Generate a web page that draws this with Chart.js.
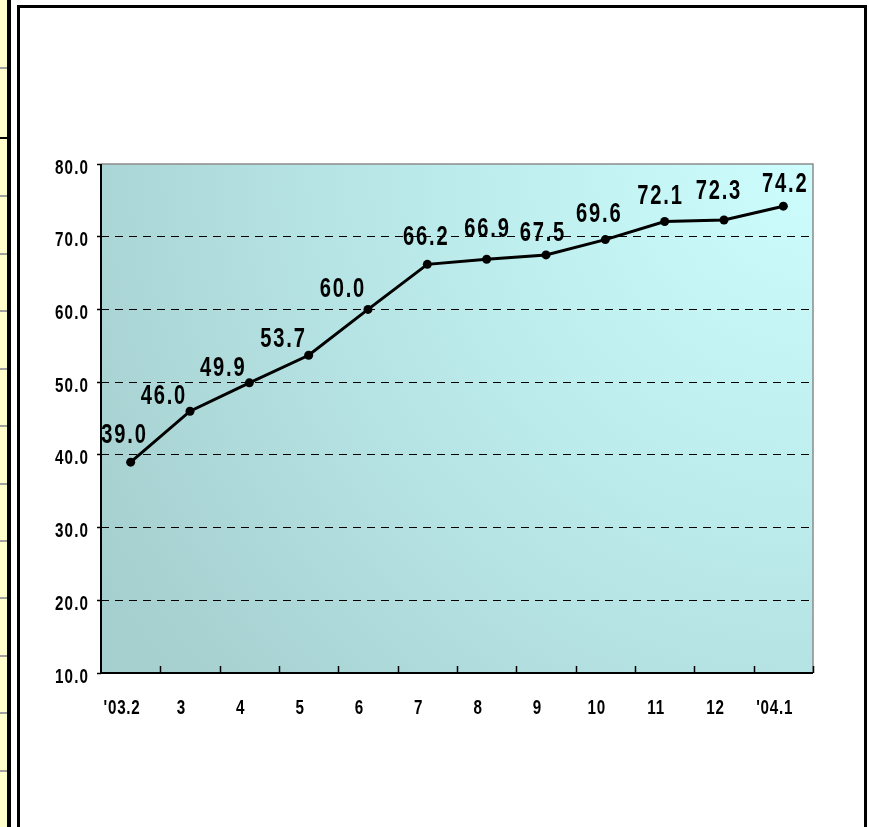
<!DOCTYPE html>
<html>
<head>
<meta charset="utf-8">
<script src="https://cdn.jsdelivr.net/npm/chart.js@4/dist/chart.umd.min.js"></script>
<style>
  html,body{margin:0;padding:0;background:#fff;}
  #wrap{position:relative;width:869px;height:827px;overflow:hidden;background:#fff;}
  .abs{position:absolute;}
  .mark{position:absolute;left:0;width:7px;height:2px;background:#a0a0a0;}
</style>
</head>
<body>
<div id="wrap">
  <div class="abs" style="left:0;top:0;width:7px;height:827px;background:#ffffcc;"></div>
  <div class="abs" style="left:7px;top:0;width:4px;height:827px;background:#000;"></div>
  <div class="mark" style="top:67px"></div>
  <div class="abs" style="left:0;top:137px;width:7px;height:2px;background:#000;"></div>
  <div class="mark" style="top:195px"></div>
  <div class="mark" style="top:253px"></div>
  <div class="mark" style="top:310px"></div>
  <div class="mark" style="top:368px"></div>
  <div class="mark" style="top:425px"></div>
  <div class="mark" style="top:483px"></div>
  <div class="mark" style="top:540px"></div>
  <div class="mark" style="top:597px"></div>
  <div class="mark" style="top:655px"></div>
  <div class="mark" style="top:712px"></div>
  <div class="mark" style="top:770px"></div>
  <div class="abs" style="left:17px;top:5px;width:844px;height:819px;border-left:3px solid #000;border-top:3px solid #000;border-right:3px solid #000;border-bottom:1px solid #c0c0c0;"></div>
  <canvas id="c" class="abs" style="left:0;top:0" width="869" height="827"></canvas>
</div>
<script>
// ---- data ----
const categories = ["'03.2", "3", "4", "5", "6", "7", "8", "9", "10", "11", "12", "'04.1"];
const values = [39.0, 46.0, 49.9, 53.7, 60.0, 66.2, 66.9, 67.5, 69.6, 72.1, 72.3, 74.2];
const yMin = 10, yMax = 80, yStep = 10;

// label placement relative to each point (px)
const labelDx = [-7, -27, -27, -26, -26, -2, 0, -4, -7, -5, -6, 1];
const labelDy = [-28, -16, -16, -17, -21, -28, -31, -23, -26, -26, -30, -23];

const FONT = "'Liberation Sans', Arial, sans-serif";

// draw condensed bold text (narrow face emulated by horizontal scaling)
function narrowText(ctx, text, x, y, size, sx, align, spacing) {
  ctx.save();
  ctx.font = 'bold ' + size + 'px ' + FONT;
  if ('letterSpacing' in ctx) ctx.letterSpacing = spacing + 'px';
  ctx.textBaseline = 'middle';
  ctx.textAlign = 'left';
  ctx.translate(x, y);
  ctx.scale(sx, 1);
  const w = ctx.measureText(text).width - spacing;
  let ox = 0;
  if (align === 'center') ox = -w / 2;
  else if (align === 'right') ox = -w;
  ctx.fillStyle = '#000';
  ctx.fillText(text, ox, 0);
  ctx.restore();
}

const bgPlugin = {
  id: 'bg',
  beforeDraw(chart) {
    const {ctx, chartArea: a} = chart;
    const g = ctx.createRadialGradient(a.right, a.top, 0, a.right, a.top, 820);
    g.addColorStop(0, '#cdfdfd');
    g.addColorStop(0.45, '#bcebec');
    g.addColorStop(1, '#a6cfcf');
    ctx.save();
    ctx.fillStyle = g;
    ctx.fillRect(a.left, a.top, a.right - a.left, a.bottom - a.top);
    ctx.restore();
  },
  afterDraw(chart) {
    const {ctx, chartArea: a} = chart;
    ctx.save();
    ctx.setLineDash([]);
    ctx.strokeStyle = '#8c8c8c';
    ctx.lineWidth = 1.5;
    ctx.beginPath();
    ctx.moveTo(a.left, a.top);
    ctx.lineTo(a.right, a.top);
    ctx.lineTo(a.right, a.bottom);
    ctx.stroke();
    ctx.strokeStyle = '#000';
    ctx.lineWidth = 2;
    ctx.beginPath();
    ctx.moveTo(a.left, a.top);
    ctx.lineTo(a.left, a.bottom);
    ctx.lineTo(a.right, a.bottom);
    ctx.stroke();
    const xs = chart.scales.x;
    const step = xs.getPixelForValue(1) - xs.getPixelForValue(0);
    ctx.lineWidth = 1.5;
    for (let i = 1; i <= categories.length; i++) {
      const x = xs.getPixelForValue(i - 1) + step / 2;
      ctx.beginPath();
      ctx.moveTo(Math.round(x) + 0.5, a.bottom);
      ctx.lineTo(Math.round(x) + 0.5, a.bottom - 7);
      ctx.stroke();
    }
    ctx.restore();
    const ys = chart.scales.y;
    ys.ticks.forEach((t, i) => {
      narrowText(ctx, Number(t.value).toFixed(1), a.left - 13, ys.getPixelForTick(i) + 4, 20, 0.76, 'right', 1.5);
    });
    xs.ticks.forEach((t, i) => {
      narrowText(ctx, categories[i], xs.getPixelForTick(i) - 9, a.bottom + 35, 20, 0.76, 'center', 1);
    });
  },
  afterDatasetsDraw(chart) {
    const {ctx} = chart;
    const meta = chart.getDatasetMeta(0);
    meta.data.forEach((pt, i) => {
      narrowText(ctx, values[i].toFixed(1), pt.x + labelDx[i], pt.y + labelDy[i] + 1, 28, 0.72, 'center', 2.5);
    });
  }
};

new Chart(document.getElementById('c'), {
  type: 'line',
  data: {
    labels: categories,
    datasets: [{
      data: values,
      borderColor: '#000',
      borderWidth: 3,
      pointRadius: 4.5,
      pointBackgroundColor: '#000',
      pointBorderColor: '#000',
      pointBorderWidth: 0,
      tension: 0,
      fill: false
    }]
  },
  options: {
    responsive: false,
    animation: false,
    events: [],
    layout: { padding: { top: 164, right: 56, left: 0, bottom: 0 } },
    plugins: { legend: { display: false }, tooltip: { enabled: false } },
    scales: {
      x: {
        offset: true,
        grid: { display: false, drawTicks: false },
        border: { display: false },
        ticks: {
          color: 'rgba(0,0,0,0)',
          font: { family: FONT, size: 16, weight: 'bold' },
          padding: 20,
          maxRotation: 0,
          autoSkip: false
        },
        afterFit(s) { s.height = 154; }
      },
      y: {
        min: yMin, max: yMax,
        border: { display: false, dash: [8, 6] },
        grid: {
          color: (c) => (c.tick && (c.tick.value === yMin || c.tick.value === yMax)) ? 'rgba(0,0,0,0)' : '#000',
          lineWidth: 1,
          tickColor: '#000',
          tickLength: 4,
          tickWidth: 1.5,
          tickBorderDash: []
        },
        ticks: {
          stepSize: yStep,
          color: 'rgba(0,0,0,0)',
          font: { family: FONT, size: 16, weight: 'bold' },
          padding: 9,
          callback: (v) => Number(v).toFixed(1)
        },
        afterFit(s) { s.width = 101; }
      }
    }
  },
  plugins: [bgPlugin]
});
</script>
</body>
</html>
